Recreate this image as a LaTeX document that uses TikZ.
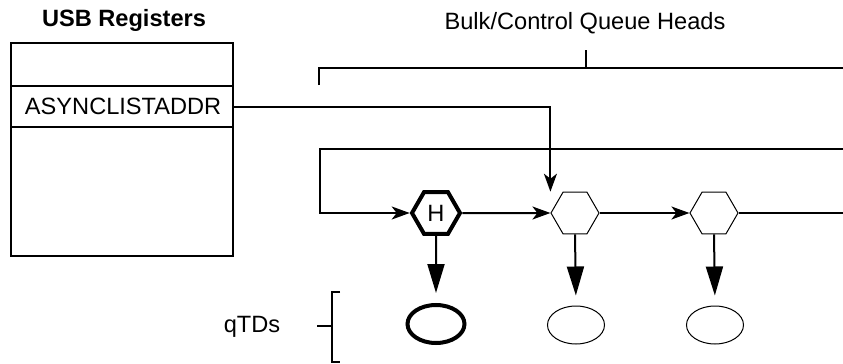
\documentclass[tikz,border=0pt]{standalone}
\usepackage{fontspec}
\setmainfont{Liberation Sans}
\usetikzlibrary{arrows.meta,positioning,shapes.geometric}
\tikzset{
  regcell/.style={draw,line width=1pt,minimum width=111pt,inner sep=0pt,outer sep=0pt},
  qhead/.style={draw,regular polygon,regular polygon sides=6,minimum size=24pt,inner sep=0pt,line width=0.5pt},
  qtd/.style={draw,ellipse,minimum width=28.5pt,minimum height=19pt,inner sep=0pt,line width=0.5pt},
  link/.style={line width=1pt,-{Stealth[length=9pt,width=6.5pt,inset=2.5pt]}},
  todtd/.style={line width=1pt,-{Triangle[length=14.5pt,width=8.5pt]},shorten >=5pt},
}
\begin{document}
\begin{tikzpicture}[x=0.5pt,y=-0.5pt,font=\fontsize{11.8}{14}\selectfont]
\useasboundingbox (0,0) rectangle (843,364);
% USB register block
\node[font=\fontsize{11.8}{14}\selectfont\bfseries] (regtitle) at (124,20) {USB Registers};
\node[regcell,minimum height=21.5pt] (reg0) at (122,64.5) {};
\node[regcell,minimum height=20.5pt,below=0pt of reg0,text width=97pt,align=left] (async) {ASYNCLISTADDR};
\node[regcell,minimum height=64.5pt,below=0pt of async] (reg2) {};
% queue heads
\node (qhtitle) at (585,23) {Bulk/Control Queue Heads};
\draw[line width=1pt] (319,85) -- (319,68) -- (843,68);
\draw[line width=1pt] (586,50) -- (586,68);
\node[qhead,line width=2pt] (qh1) at (436,213) {H};
\node[qhead] (qh2) at (575,213) {};
\node[qhead] (qh3) at (714,213) {};
\coordinate (wrap) at (843,149);
\coordinate (back) at (320,149);
\coordinate (next) at (843,213);
\draw[link] (async.east) -| (qh2.west |- qh2.north);
\draw[link] (wrap) -- (back) |- (qh1.west);
\draw[link] (qh1.east) -- (qh2.west);
\draw[link] (qh2.east) -- (qh3.west);
\draw[line width=1pt] (qh3.east) -- (next);
% qTDs
\node[qtd,line width=2pt] (td1) at (436,324) {};
\node[qtd] (td2) at (576,325) {};
\node[qtd] (td3) at (715,325) {};
\foreach \i in {1,2,3}{
  \draw[todtd] (qh\i.south) -- (td\i.north);
}
\node (tdlabel) at (252,327) {qTDs};
\draw[line width=1pt] (340,292) -- (332,292) -- (332,362) -- (340,362);
\draw[line width=1pt] (317,326) -- (332,326);
\end{tikzpicture}
\end{document}
